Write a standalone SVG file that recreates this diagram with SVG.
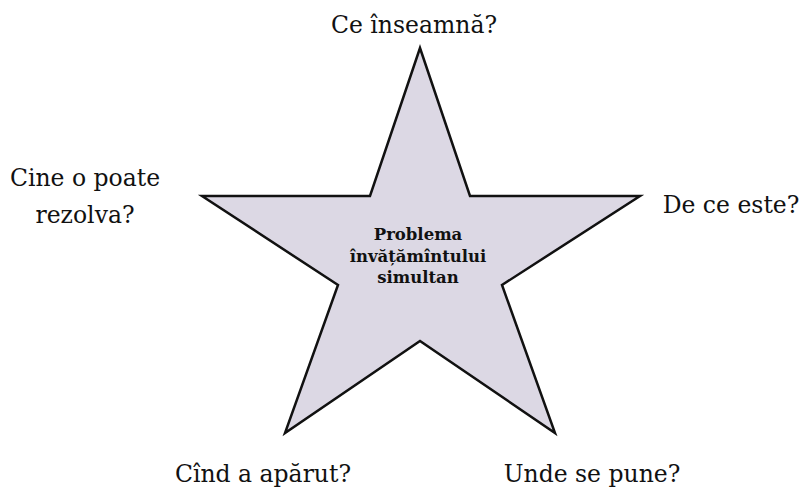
<svg xmlns="http://www.w3.org/2000/svg" width="801" height="488" viewBox="0 0 801 488">
<style>
.lbl{font-family:"DejaVu Serif","Liberation Serif",serif;font-size:23.5px;fill:#111;text-anchor:middle}
.ctr{font-family:"DejaVu Serif","Liberation Serif",serif;font-size:16.5px;font-weight:bold;fill:#111;text-anchor:middle}
.star{fill:#dcd8e4;stroke:#111;stroke-width:2.5;stroke-linejoin:miter}
</style>
<rect width="801" height="488" fill="#fff"/>
<g id="star">
<polygon class="star" points="420,48 470,196 640,196 502,285 555,433 420,341 285,433 338,285 202,196 370,196"/>
<text class="ctr" x="418" y="240">Problema</text>
<text class="ctr" x="418" y="262">învățămîntului</text>
<text class="ctr" x="418" y="283">simultan</text>
</g>
<g id="top"><text class="lbl" x="414" y="33">Ce înseamnă?</text></g>
<g id="left"><text class="lbl" x="85" y="186">Cine o poate</text><text class="lbl" x="85" y="223">rezolva?</text></g>
<g id="right"><text class="lbl" x="731" y="213">De ce este?</text></g>
<g id="bottomleft"><text class="lbl" x="263" y="482">Cînd a apărut?</text></g>
<g id="bottomright"><text class="lbl" x="592" y="482">Unde se pune?</text></g>
<g id="connectors"/>
</svg>
